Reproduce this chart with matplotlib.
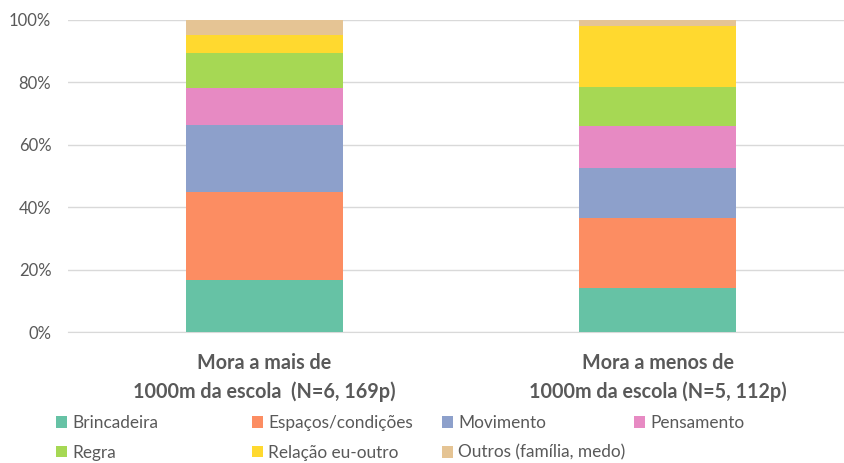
import matplotlib
matplotlib.use("Agg")
import matplotlib.pyplot as plt
from matplotlib.patches import Patch
from matplotlib.ticker import PercentFormatter

plt.rcParams['font.family'] = ['Lato', 'DejaVu Sans']

groups = ["Mora a mais de\n1000m da escola  (N=6, 169p)",
          "Mora a menos de\n1000m da escola (N=5, 112p)"]
categories = ["Brincadeira", "Espaços/condições", "Movimento", "Pensamento",
              "Regra", "Relação eu-outro", "Outros (família, medo)"]
# percentages per category for each group
values_g1 = [16.6, 28.4, 21.3, 11.8, 11.2, 5.9, 4.8]
values_g2 = [14.3, 22.3, 16.1, 13.4, 12.5, 19.6, 1.8]
colors = ["#66c2a5", "#fc8d62", "#8da0cb", "#e78ac3", "#a6d854", "#ffd92f", "#e5c494"]

W, H = 845, 463
fig = plt.figure(figsize=(W / 100, H / 100), dpi=100)
ax = fig.add_axes([68 / W, 1 - 332.3 / H, 1 - 68 / W, (332.3 - 20) / H])

x = [0, 1]
bottoms = [0.0, 0.0]
handles = []
for i, cat in enumerate(categories):
    vals = [values_g1[i], values_g2[i]]
    ax.bar(x, vals, width=0.40, bottom=bottoms, color=colors[i], zorder=3,
           edgecolor="none")
    bottoms = [b + v for b, v in zip(bottoms, vals)]
    handles.append(Patch(facecolor=colors[i], label=cat))

ax.set_ylim(0, 100)
ax.set_xlim(-0.5, 1.476)
ax.set_yticks([0, 20, 40, 60, 80, 100])
ax.yaxis.set_major_formatter(PercentFormatter(decimals=0))
ax.grid(axis="y", color="#d9d9d9", linewidth=1, zorder=0)
for s in ["top", "right", "left"]:
    ax.spines[s].set_visible(False)
ax.spines["bottom"].set_color("#d9d9d9")
ax.tick_params(axis="y", length=0, pad=12, labelsize=12, labelcolor="#595959")
ax.tick_params(axis="x", length=0, pad=15)
ax.set_xticks(x)
ax.set_xticklabels(groups, fontsize=14.2, fontweight="bold", color="#595959",
                   linespacing=1.5)

# legend laid out in four equal-width columns, two rows (row-major order)
col_x = [56, 252, 442, 634]
row_top = 415
ncols = 4
for c in range(ncols):
    idx = [i for i in range(len(categories)) if i % ncols == c]
    fig.legend([handles[i] for i in idx], [categories[i] for i in idx],
               loc="upper left", bbox_to_anchor=(col_x[c] / W, 1 - row_top / H),
               frameon=False, fontsize=12.4, labelcolor="#595959",
               handlelength=0.65, handleheight=0.65, handletextpad=0.3,
               labelspacing=0.8, borderpad=0, borderaxespad=0)

fig.savefig("out.png", dpi=100)
